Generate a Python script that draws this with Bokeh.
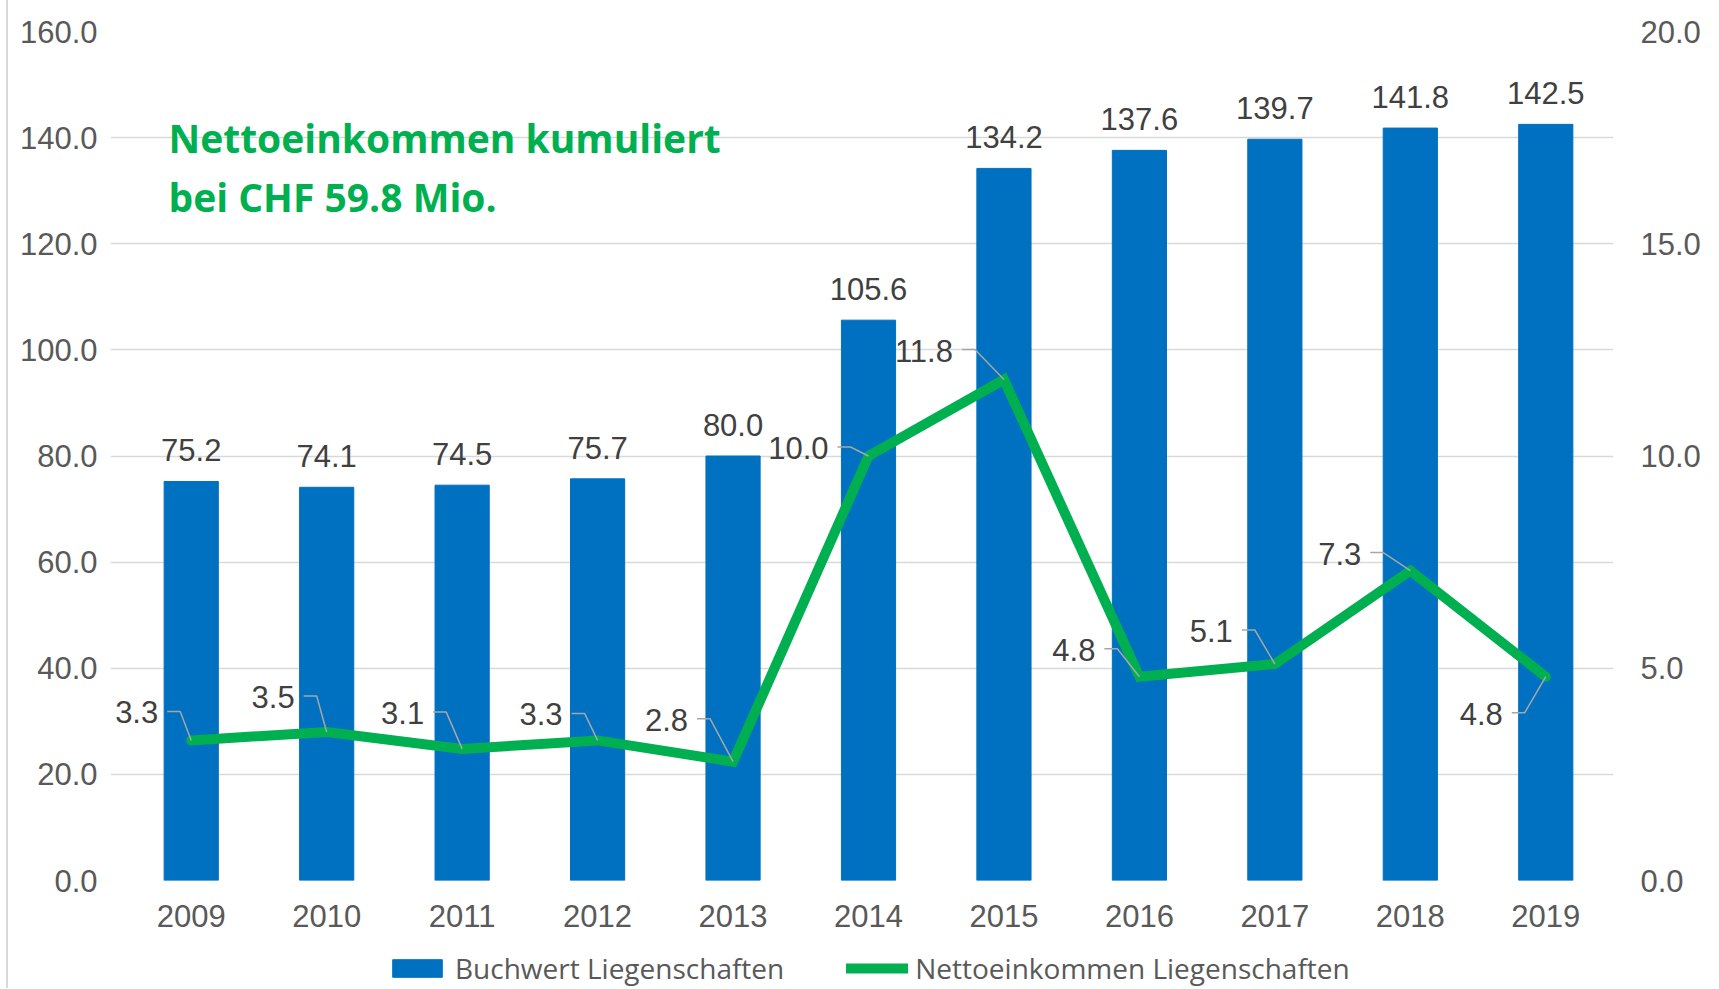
from bokeh.plotting import figure
from bokeh.layouts import column
from bokeh.models import (Range1d, LinearAxis, FixedTicker, PrintfTickFormatter,
                          Legend, LegendItem, Label)
from bokeh.core.properties import value
from bokeh.embed import file_html
from bokeh.resources import INLINE

# ---------------- data ----------------
years = ["2009", "2010", "2011", "2012", "2013", "2014", "2015", "2016", "2017", "2018", "2019"]
buchwert = [75.2, 74.1, 74.5, 75.7, 80.0, 105.6, 134.2, 137.6, 139.7, 141.8, 142.5]
netto = [3.3, 3.5, 3.1, 3.3, 2.8, 10.0, 11.8, 4.8, 5.1, 7.3, 4.8]
left_ticks = [0, 20, 40, 60, 80, 100, 120, 140, 160]
right_ticks = [0, 5, 10, 15, 20]
series_names = ["Buchwert Liegenschaften", "Nettoeinkommen Liegenschaften"]
title_lines = ["Nettoeinkommen kumuliert", "bei CHF 59.8 Mio."]

# placement of the line's data labels (px, relative to the point):
# right edge of the text, vertical centre of the text
lbl_dx = [-33, -32, -38, -35, -45, -40, -51, -44, -42, -49, -43]
lbl_dy = [-28, -35, -36, -26, -42, -8, -29, -27, -33, -17, 37]

# ---------------- layout ----------------
N = len(years)
W = 1716
H_MAIN = 948
H_LEG = 40
CAT_W = 1490                 # px width of the category area
PX_X = CAT_W / N             # px per category
EXT = 13                     # extra px of frame left of the first category band
ML = 123 - EXT
MT = 31
FH = 849
FW = CAT_W + EXT
MR = W - ML - FW
MB = H_MAIN - MT - FH
PX_YR = FH / right_ticks[-1]
PX_YL = FH / left_ticks[-1]

BLUE = "#0070C0"
GREEN = "#00B050"
AXIS_GREY = "#595959"
LABEL_GREY = "#404040"
FONT = "Liberation Sans"
EDGE = {"box-shadow": "inset 6px 0 0 0 #ffffff, inset 8px 0 0 0 #d9d9d9",
        "background-color": "#ffffff"}

xs = list(range(N))

p = figure(width=W, height=H_MAIN, output_backend="svg", toolbar_location=None,
           x_range=Range1d(-0.5 - EXT / PX_X, N - 0.5),
           y_range=Range1d(left_ticks[0], left_ticks[-1]),
           min_border_left=ML, min_border_right=MR, min_border_top=MT, min_border_bottom=MB)
p.extra_y_ranges = {"right": Range1d(right_ticks[0], right_ticks[-1])}
p.outline_line_color = None
p.background_fill_color = "white"
p.border_fill_alpha = 0
p.styles = EDGE

# axes
p.xaxis.ticker = FixedTicker(ticks=xs)
p.xaxis.major_label_overrides = {i: y for i, y in enumerate(years)}
p.yaxis.ticker = FixedTicker(ticks=left_ticks)
p.yaxis.formatter = PrintfTickFormatter(format="%.1f")
rax = LinearAxis(y_range_name="right", ticker=FixedTicker(ticks=right_ticks),
                 formatter=PrintfTickFormatter(format="%.1f"))
p.add_layout(rax, "right")

for ax, stand in ((p.xaxis[0], 24), (p.yaxis[0], EXT), (rax, 27)):
    ax.axis_line_color = None
    ax.major_tick_line_color = None
    ax.minor_tick_line_color = None
    ax.major_tick_out = 0
    ax.major_tick_in = 0
    ax.major_label_standoff = stand
    ax.major_label_text_font = FONT
    ax.major_label_text_font_size = "31px"
    ax.major_label_text_color = AXIS_GREY

p.xgrid.grid_line_color = None
p.ygrid.ticker = FixedTicker(ticks=left_ticks)
p.ygrid.bounds = (-0.5, N - 0.5)
p.ygrid.grid_line_color = "#d9d9d9"
p.ygrid.grid_line_width = 1.5

# bars
bar_style = dict(width=0.4, fill_color=BLUE, line_color=BLUE, line_width=1)
line_style = dict(line_color=GREEN, line_width=10, line_join="miter", line_cap="round")
bars = p.vbar(x=xs, top=buchwert, **bar_style)

# bar labels
p.text(x=xs, y=buchwert, text=[f"{v:.1f}" for v in buchwert],
       text_align="center", text_baseline="middle", y_offset=-31,
       text_font=value(FONT), text_font_size="31px", text_color=LABEL_GREY)

# line
line = p.line(x=xs, y=netto, y_range_name="right", **line_style)

# leader lines for the line labels
lead_xs, lead_ys = [], []
for i, v in enumerate(netto):
    dx, dy = lbl_dx[i], lbl_dy[i]
    sx = i + (dx + 9) / PX_X
    ex = i + (dx + 22) / PX_X
    ly = v - (dy - 1) / PX_YR
    lead_xs.append([sx, ex, i])
    lead_ys.append([ly, ly, v])
p.multi_line(xs=lead_xs, ys=lead_ys, y_range_name="right", line_color="#a6a6a6", line_width=1.5)

# line labels
p.text(x=xs, y=netto, text=[f"{v:.1f}" for v in netto], y_range_name="right",
       x_offset=lbl_dx, y_offset=lbl_dy, text_align="right", text_baseline="middle",
       text_font=value(FONT), text_font_size="31px", text_color=LABEL_GREY)

# title-like annotation (vertical centre of each line, px below the top of the frame)
title_y_px = [106, 165]
for t, ypx in zip(title_lines, title_y_px):
    p.add_layout(Label(x=-0.5 + 45 / PX_X, y=(FH - ypx) / PX_YL, text=t,
                       text_font="Open Sans", text_font_style="bold", text_font_size="39px",
                       text_color=GREEN, text_baseline="middle", text_align="left"))

# ---------------- legend strip (same series, drawn below its view) ----------------
lf = figure(width=W, height=H_LEG, output_backend="svg", toolbar_location=None,
            x_range=Range1d(-0.5 - EXT / PX_X, N - 0.5), y_range=Range1d(1000, 1001),
            min_border_left=ML, min_border_right=MR, min_border_top=0, min_border_bottom=0)
lf.axis.visible = False
lf.grid.visible = False
lf.outline_line_color = None
lf.background_fill_alpha = 0
lf.border_fill_alpha = 0
lf.styles = EDGE
lb = lf.vbar(x=xs, top=buchwert, **bar_style)
ll = lf.line(x=xs, y=netto, **line_style)
GW = 62
legend = Legend(items=[LegendItem(label=series_names[0], renderers=[lb]),
                       LegendItem(label=series_names[1], renderers=[ll])],
                orientation="horizontal", location=(386 - ML, 1),
                glyph_width=GW, glyph_height=22, label_standoff=7, spacing=62,
                padding=0, margin=0, border_line_color=None, background_fill_alpha=0,
                label_text_font="Open Sans", label_text_font_size="28px",
                label_text_color=AXIS_GREY)
lf.add_layout(legend)

layout = column(p, lf, spacing=0)
open("out.html", "w").write(file_html(layout, INLINE))
